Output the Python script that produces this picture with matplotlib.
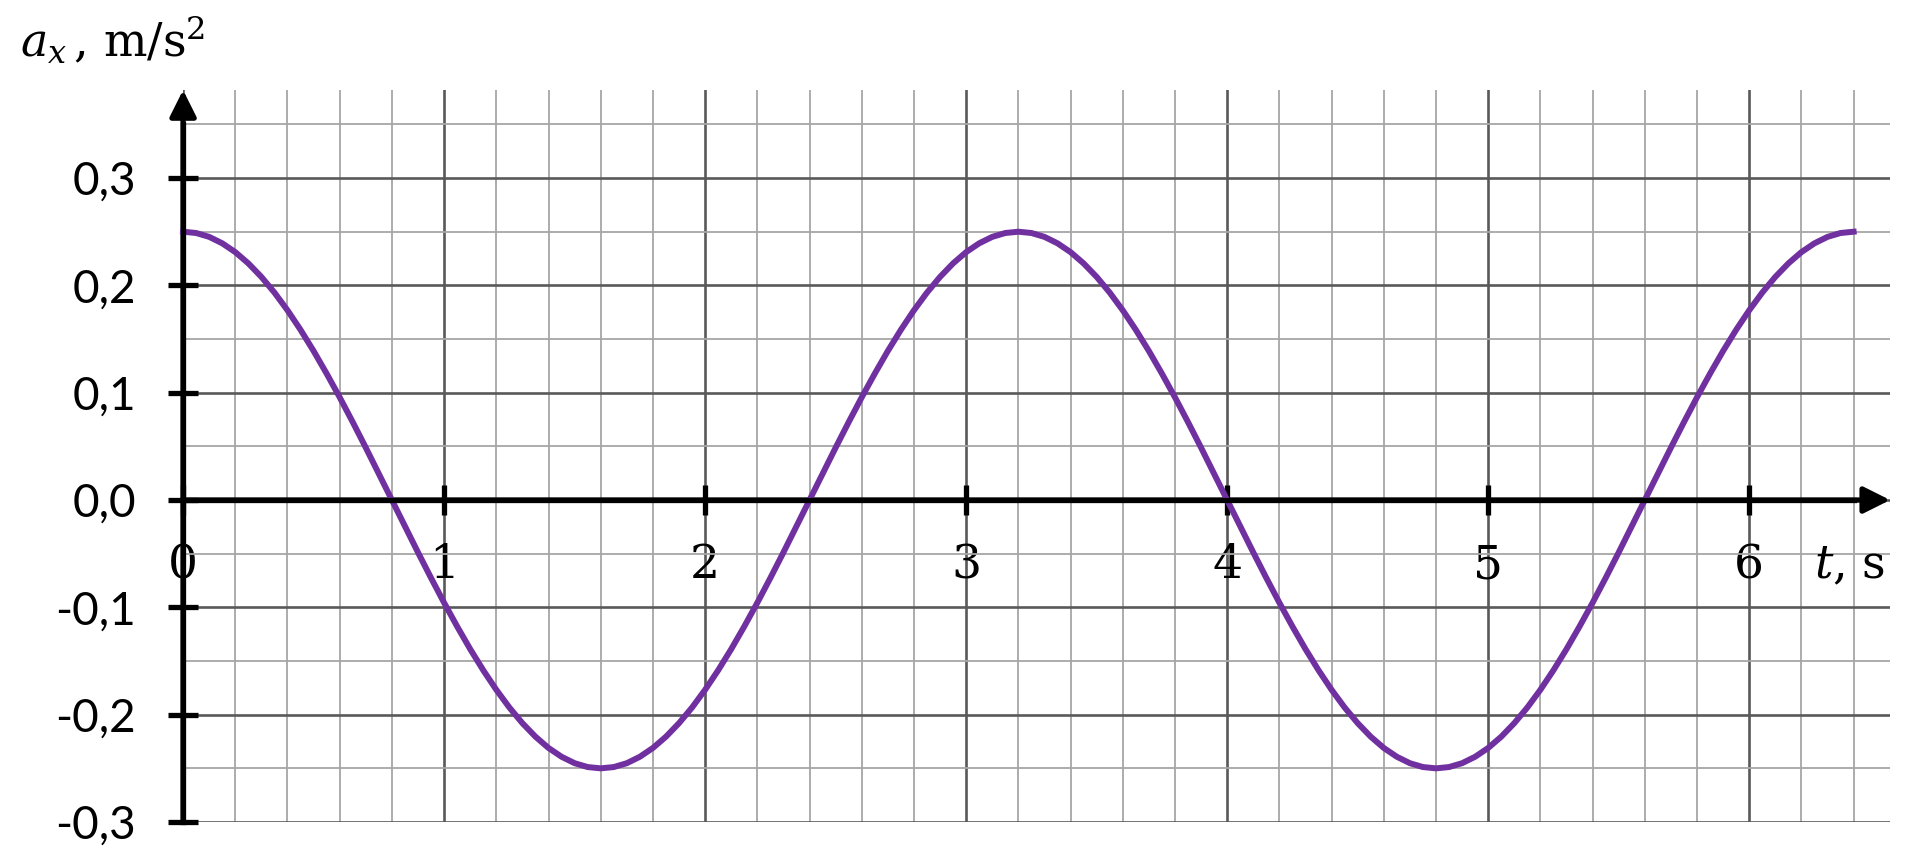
# -*- coding:utf-8 -*-
import matplotlib
matplotlib.use("Agg")
from matplotlib import pyplot as plt
from matplotlib.ticker import MultipleLocator

# время t, s (шаг 0.05)
t_values = [0.00, 0.05, 0.10, 0.15, 0.20, 0.25, 0.30, 0.35, 0.40, 0.45, 0.50, 0.55, 0.60, 0.65, 0.70, 0.75,
            0.80, 0.85, 0.90, 0.95, 1.00, 1.05, 1.10, 1.15, 1.20, 1.25, 1.30, 1.35, 1.40, 1.45, 1.50, 1.55,
            1.60, 1.65, 1.70, 1.75, 1.80, 1.85, 1.90, 1.95, 2.00, 2.05, 2.10, 2.15, 2.20, 2.25, 2.30, 2.35,
            2.40, 2.45, 2.50, 2.55, 2.60, 2.65, 2.70, 2.75, 2.80, 2.85, 2.90, 2.95, 3.00, 3.05, 3.10, 3.15,
            3.20, 3.25, 3.30, 3.35, 3.40, 3.45, 3.50, 3.55, 3.60, 3.65, 3.70, 3.75, 3.80, 3.85, 3.90, 3.95,
            4.00, 4.05, 4.10, 4.15, 4.20, 4.25, 4.30, 4.35, 4.40, 4.45, 4.50, 4.55, 4.60, 4.65, 4.70, 4.75,
            4.80, 4.85, 4.90, 4.95, 5.00, 5.05, 5.10, 5.15, 5.20, 5.25, 5.30, 5.35, 5.40, 5.45, 5.50, 5.55,
            5.60, 5.65, 5.70, 5.75, 5.80, 5.85, 5.90, 5.95, 6.00, 6.05, 6.10, 6.15, 6.20, 6.25, 6.30, 6.35,
            6.40]
# ускорение a_x, m/s^2
a_values = [0.25, 0.2488, 0.2452, 0.2392, 0.2310, 0.2205, 0.2079, 0.1933,
            0.1768, 0.1586, 0.1389, 0.1178, 0.0957, 0.0726, 0.0488, 0.0245,
            0.0, -0.0245, -0.0488, -0.0726, -0.0957, -0.1178, -0.1389, -0.1586,
            -0.1768, -0.1933, -0.2079, -0.2205, -0.2310, -0.2392, -0.2452, -0.2488,
            -0.25, -0.2488, -0.2452, -0.2392, -0.2310, -0.2205, -0.2079, -0.1933,
            -0.1768, -0.1586, -0.1389, -0.1178, -0.0957, -0.0726, -0.0488, -0.0245,
            0.0, 0.0245, 0.0488, 0.0726, 0.0957, 0.1178, 0.1389, 0.1586,
            0.1768, 0.1933, 0.2079, 0.2205, 0.2310, 0.2392, 0.2452, 0.2488,
            0.25, 0.2488, 0.2452, 0.2392, 0.2310, 0.2205, 0.2079, 0.1933,
            0.1768, 0.1586, 0.1389, 0.1178, 0.0957, 0.0726, 0.0488, 0.0245,
            0.0, -0.0245, -0.0488, -0.0726, -0.0957, -0.1178, -0.1389, -0.1586,
            -0.1768, -0.1933, -0.2079, -0.2205, -0.2310, -0.2392, -0.2452, -0.2488,
            -0.25, -0.2488, -0.2452, -0.2392, -0.2310, -0.2205, -0.2079, -0.1933,
            -0.1768, -0.1586, -0.1389, -0.1178, -0.0957, -0.0726, -0.0488, -0.0245,
            0.0, 0.0245, 0.0488, 0.0726, 0.0957, 0.1178, 0.1389, 0.1586,
            0.1768, 0.1933, 0.2079, 0.2205, 0.2310, 0.2392, 0.2452, 0.2488,
            0.25]

x_ticks = [0, 1, 2, 3, 4, 5, 6]
x_tick_labels = ["0", "1", "2", "3", "4", "5", "6"]
y_ticks = [-0.3, -0.2, -0.1, 0.0, 0.1, 0.2, 0.3]
y_tick_labels = ["-0,3", "-0,2", "-0,1", "0,0", "0,1", "0,2", "0,3"]

X_MAX = 6.54
Y_MIN, Y_MAX = -0.3, 0.382


def draw_chart():
    plt.rcParams["mathtext.fontset"] = "dejavuserif"
    plt.rcParams["axes.unicode_minus"] = False

    fig = plt.figure(figsize=(19.11, 8.65), dpi=100)
    ax = fig.add_axes([0.0958, 0.0497, 0.8933, 0.8462])
    ax.set_xlim(0, X_MAX)
    ax.set_ylim(Y_MIN, Y_MAX)

    # сетка: крупная и мелкая
    ax.xaxis.set_minor_locator(MultipleLocator(0.2))
    ax.yaxis.set_minor_locator(MultipleLocator(0.05))
    ax.grid(which="major", color="#595959", linewidth=1.9)
    ax.grid(which="minor", color="#a6a6a6", linewidth=1.3)
    ax.set_axisbelow(True)

    # деления и подписи
    ax.set_xticks(x_ticks, x_tick_labels)
    ax.set_yticks(y_ticks, y_tick_labels)
    ax.tick_params(which="minor", length=0)
    ax.tick_params(which="major", direction="inout", length=22, width=3.8, color="black")
    ax.tick_params(axis="x", pad=20, labelsize=34, labelfontfamily="DejaVu Serif")
    ax.tick_params(axis="y", pad=23, labelsize=33, labelfontfamily="Lato")

    # оси со стрелками
    ax.spines["top"].set_visible(False)
    ax.spines["right"].set_visible(False)
    ax.spines["bottom"].set_position(("data", 0))
    ax.spines["bottom"].set_bounds(0, 6.4)
    ax.spines["left"].set_bounds(Y_MIN, 0.35)
    for side in ["bottom", "left"]:
        ax.spines[side].set_linewidth(3.8)
        ax.spines[side].set_zorder(4)
    arrow = dict(arrowstyle="-|>,head_length=1.6,head_width=0.8", mutation_scale=10,
                 lw=3.8, color="black", shrinkA=0, shrinkB=0)
    ax.annotate("", xy=(X_MAX, 0), xytext=(0, 0), arrowprops=arrow, annotation_clip=False)
    ax.annotate("", xy=(0, Y_MAX), xytext=(0, Y_MIN), arrowprops=arrow, annotation_clip=False)

    # график a_x(t)
    ax.plot(t_values, a_values, color="#7030a0", linewidth=4.3, zorder=3, clip_on=False)

    # подписи осей
    fig.text(20 / 1911, 1 - 57 / 865, r"$a_x\,$, m/s$^2$", fontsize=33,
             family="DejaVu Serif", ha="left", va="baseline")
    ax.text(6.52, -0.073, r"$t$, s", fontsize=33, family="DejaVu Serif",
            ha="right", va="baseline")

    fig.savefig("out.png", dpi=100)


if __name__ == '__main__':
    draw_chart()
